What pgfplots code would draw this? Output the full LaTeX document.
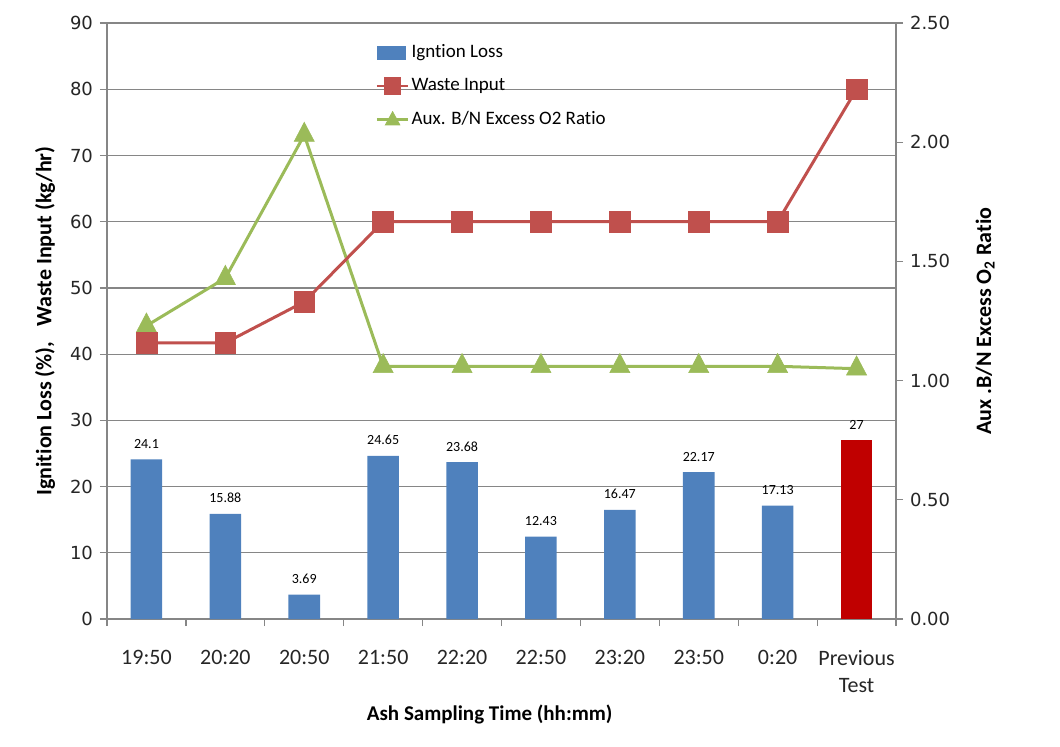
\documentclass[border=0pt]{standalone}
\usepackage{pgfplots}
\pgfplotsset{compat=1.18}
\usepackage{fontspec}
\setmainfont{Carlito}[Ligatures={NoCommon}]
\newfontfamily\tickfont{DejaVu Sans}
\definecolor{barblue}{HTML}{4F81BD}
\definecolor{barred}{HTML}{C00000}
\definecolor{linered}{HTML}{C0504D}
\definecolor{linegreen}{HTML}{9BBB59}
\definecolor{gridgray}{HTML}{868686}

\pgfplotstableread{
x y label
0 24.1  24.1
1 15.88 15.88
2 3.69  3.69
3 24.65 24.65
4 23.68 23.68
5 12.43 12.43
6 16.47 16.47
7 22.17 22.17
8 17.13 17.13
}\ignitiontable
\pgfplotstableread{
x y label
9 27 27
}\previoustable
\pgfplotstableread{
x y
0 41.7
1 41.7
2 47.9
3 60
4 60
5 60
6 60
7 60
8 60
9 80
}\wastetable
\pgfplotstableread{
x y
0 1.23
1 1.43
2 2.03
3 1.06
4 1.06
5 1.06
6 1.06
7 1.06
8 1.06
9 1.05
}\auxtable

\pgfplotsset{
  base/.style={
    scale only axis, width=394.5pt, height=298pt,
    xmin=-0.5, xmax=9.5,
    at={(0,0)}, anchor=south west,
    tick align=outside,
    major tick length=3.5pt, minor tick length=3.5pt,
    /pgf/number format/assume math mode=true,
  }
}

\begin{document}
\begin{tikzpicture}
% Axis 1: bars, grid, left axis, x axis
\begin{axis}[base, name=ax,
  ymin=0, ymax=90, ytick={0,10,...,90},
  ymajorgrids, grid style={gridgray, line width=0.6pt},
  axis x line*=bottom, axis y line*=left,
  axis line style={gridgray, line width=0.6pt},
  tick style={gridgray, line width=0.6pt},
  xtick={-0.5,0.5,...,9.5},
  x tick label as interval,
  xticklabels={19:50,20:20,20:50,21:50,22:20,22:50,23:20,23:50,0:20,{Previous\\Test}},
  xticklabel style={font=\fontsize{11}{13.5}\selectfont, align=center, yshift=-8.5pt, text=black!85},
  yticklabel style={font=\tickfont\fontsize{9}{10}\selectfont, text=black!85},
  xlabel={Ash Sampling Time (hh:mm)},
  xlabel style={font=\bfseries\fontsize{10.5}{12}\selectfont, at={(axis description cs:0.485,-0.161)}, anchor=center},
  ylabel={Ignition Loss (\%),\ \ \ Waste Input (kg/hr)},
  ylabel style={font=\bfseries\fontsize{11}{13}\selectfont, at={(axis description cs:-0.0786,0.5)}, anchor=center},
  nodes near coords,
  every node near coord/.append style={font=\fontsize{7}{8}\selectfont, text=black, yshift=2pt},
]
\addplot[ybar, bar width=0.4, bar shift=0pt, fill=barblue, draw=none,
  point meta=explicit symbolic] table[x=x, y=y, meta=label] {\ignitiontable};
\addplot[ybar, bar width=0.4, bar shift=0pt, fill=barred, draw=none,
  point meta=explicit symbolic] table[x=x, y=y, meta=label] {\previoustable};
\end{axis}

% Axis 2: right axis, aux ratio
\begin{axis}[base,
  ymin=0, ymax=2.5, ytick={0,0.5,...,2.5},
  axis y line*=right, axis x line=none,
  axis line style={gridgray, line width=0.6pt},
  tick style={gridgray, line width=0.6pt},
  yticklabel style={font=\tickfont\fontsize{9}{10}\selectfont, text=black!85,
    /pgf/number format/.cd, fixed, fixed zerofill, precision=2},
  ylabel={Aux .B/N Excess O\textsubscript{2} Ratio},
  ylabel style={font=\bfseries\fontsize{11}{13}\selectfont, at={(axis description cs:1.113,0.5)}, anchor=center},
  clip=false,
]
\addplot[linegreen, line width=1.5pt, mark=triangle*, mark size=5.8pt,
  mark options={fill=linegreen, draw=linegreen, line width=0.3pt, yscale=1.1}]
  table[x=x, y=y] {\auxtable};
\end{axis}

% Axis 3: waste input line + legend
\begin{axis}[base,
  ymin=0, ymax=90, hide axis, clip=false,
  legend style={at={(axis description cs:0.34,0.971)}, anchor=north west,
    draw=none, fill=none, font=\fontsize{9.5}{11}\selectfont,
    row sep=4.8pt, inner sep=0pt, cells={anchor=west},
    /tikz/every odd column/.append style={column sep=-1pt}},
  legend cell align=left,
]
\addlegendimage{legend image code/.code={
  \fill[barblue] (0cm,-0.12cm) rectangle (0.5cm,0.12cm);}}
\addlegendentry{Igntion Loss}
\addplot[linered, line width=1.5pt, mark=square*, mark size=5.2pt,
  mark options={fill=linered, draw=linered, line width=0.3pt},
  legend image code/.code={
    \draw[linered, line width=1.3pt] (0cm,0cm) -- (0.55cm,0cm);
    \fill[linered] (0.275cm,0cm) +(-3.6pt,-3.6pt) rectangle +(3.6pt,3.6pt);}]
  table[x=x, y=y] {\wastetable};
\addlegendentry{Waste Input}
\addlegendimage{legend image code/.code={
    \draw[linegreen, line width=1.3pt] (0cm,0cm) -- (0.55cm,0cm);
    \fill[linegreen] (0.275cm,3.8pt) -- (0.275cm-3.6pt,-2.8pt) -- (0.275cm+3.6pt,-2.8pt) -- cycle;}}
\addlegendentry{Aux. B/N Excess O2 Ratio}
\end{axis}

\pgfresetboundingbox
\path[use as bounding box] (-53.5pt,-63.5pt) rectangle (476.5pt,309.5pt);
\end{tikzpicture}
\end{document}
